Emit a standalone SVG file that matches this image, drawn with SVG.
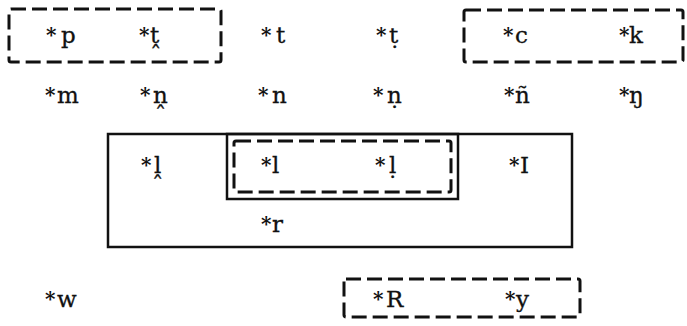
<svg xmlns="http://www.w3.org/2000/svg" width="687" height="326" viewBox="0 0 687 326">
  <style>
    .dash { fill: none; stroke: #111; stroke-width: 3; stroke-dasharray: 15 6; }
    .solid { fill: none; stroke: #111; stroke-width: 2.5; }
  </style>
  <rect width="687" height="326" fill="#fff"/>

  <!-- grouping boxes -->
  <g id="groupings">
    <rect class="dash" x="9" y="9" width="212" height="53" rx="2"/>
    <rect class="dash" x="464" y="10" width="219" height="52" rx="2"/>
    <rect class="solid" x="108" y="134" width="464" height="113"/>
    <rect class="solid" x="227" y="134" width="231" height="65"/>
    <rect class="dash" x="234" y="141" width="217" height="51" rx="2"/>
    <rect class="dash" x="344" y="279" width="236" height="38" rx="2"/>
  </g>

  <!-- row 1: stops -->
  <g id="p"><text x="46" y="42" font-family="DejaVu Serif" font-size="20" font-weight="bold" fill="#111">*</text><text x="61" y="43" font-family="DejaVu Serif" font-size="23" fill="#111" stroke="#111" stroke-width="0.3">p</text></g>
  <g id="t-lamino"><text x="139" y="42" font-family="DejaVu Serif" font-size="20" font-weight="bold" fill="#111">*</text><text x="150" y="43" font-family="DejaVu Serif" font-size="23" fill="#111" stroke="#111" stroke-width="0.3">t&#x032D;</text></g>
  <g id="t"><text x="261" y="42" font-family="DejaVu Serif" font-size="20" font-weight="bold" fill="#111">*</text><text x="276" y="43" font-family="DejaVu Serif" font-size="23" fill="#111" stroke="#111" stroke-width="0.3">t</text></g>
  <g id="t-retro"><text x="376" y="42" font-family="DejaVu Serif" font-size="20" font-weight="bold" fill="#111">*</text><text x="389" y="43" font-family="DejaVu Serif" font-size="23" fill="#111" stroke="#111" stroke-width="0.3">&#x1E6D;</text></g>
  <g id="c"><text x="503" y="42" font-family="DejaVu Serif" font-size="20" font-weight="bold" fill="#111">*</text><text x="515" y="43" font-family="DejaVu Serif" font-size="23" fill="#111" stroke="#111" stroke-width="0.3">c</text></g>
  <g id="k"><text x="619" y="42" font-family="DejaVu Serif" font-size="20" font-weight="bold" fill="#111">*</text><text x="629" y="43" font-family="DejaVu Serif" font-size="23" fill="#111" stroke="#111" stroke-width="0.3">k</text></g>

  <!-- row 2: nasals -->
  <g id="m"><text x="45" y="102" font-family="DejaVu Serif" font-size="20" font-weight="bold" fill="#111">*</text><text x="57" y="103" font-family="DejaVu Serif" font-size="23" fill="#111" stroke="#111" stroke-width="0.3">m</text></g>
  <g id="n-lamino"><text x="140" y="102" font-family="DejaVu Serif" font-size="20" font-weight="bold" fill="#111">*</text><text x="153" y="103" font-family="DejaVu Serif" font-size="23" fill="#111" stroke="#111" stroke-width="0.3">n&#x032D;</text></g>
  <g id="n"><text x="258" y="102" font-family="DejaVu Serif" font-size="20" font-weight="bold" fill="#111">*</text><text x="272" y="103" font-family="DejaVu Serif" font-size="23" fill="#111" stroke="#111" stroke-width="0.3">n</text></g>
  <g id="n-retro"><text x="373" y="102" font-family="DejaVu Serif" font-size="20" font-weight="bold" fill="#111">*</text><text x="387" y="103" font-family="DejaVu Serif" font-size="23" fill="#111" stroke="#111" stroke-width="0.3">&#x1E47;</text></g>
  <g id="n-palatal"><text x="504" y="102" font-family="DejaVu Serif" font-size="20" font-weight="bold" fill="#111">*</text><text x="515" y="103" font-family="DejaVu Serif" font-size="23" fill="#111" stroke="#111" stroke-width="0.3">ñ</text></g>
  <g id="ng"><text x="619" y="102" font-family="DejaVu Serif" font-size="20" font-weight="bold" fill="#111">*</text><text x="629" y="103" font-family="DejaVu Serif" font-size="23" fill="#111" stroke="#111" stroke-width="0.3">ŋ</text></g>

  <!-- row 3: laterals and rhotic -->
  <g id="l-lamino"><text x="141" y="172" font-family="DejaVu Serif" font-size="20" font-weight="bold" fill="#111">*</text><text x="154" y="173" font-family="DejaVu Serif" font-size="23" fill="#111" stroke="#111" stroke-width="0.3">l&#x032D;</text></g>
  <g id="l"><text x="261" y="172" font-family="DejaVu Serif" font-size="20" font-weight="bold" fill="#111">*</text><text x="272" y="173" font-family="DejaVu Serif" font-size="23" fill="#111" stroke="#111" stroke-width="0.3">l</text></g>
  <g id="l-retro"><text x="375" y="172" font-family="DejaVu Serif" font-size="20" font-weight="bold" fill="#111">*</text><text x="389" y="173" font-family="DejaVu Serif" font-size="23" fill="#111" stroke="#111" stroke-width="0.3">&#x1E37;</text></g>
  <g id="l-palatal"><text x="509" y="172" font-family="DejaVu Serif" font-size="20" font-weight="bold" fill="#111">*</text><text x="520" y="173" font-family="DejaVu Serif" font-size="23" fill="#111" stroke="#111" stroke-width="0.3">I</text></g>
  <g id="r"><text x="261" y="231" font-family="DejaVu Serif" font-size="20" font-weight="bold" fill="#111">*</text><text x="272" y="232" font-family="DejaVu Serif" font-size="23" fill="#111" stroke="#111" stroke-width="0.3">r</text></g>

  <!-- row 4: glides and trill -->
  <g id="w"><text x="45" y="306" font-family="DejaVu Serif" font-size="20" font-weight="bold" fill="#111">*</text><text x="57" y="307" font-family="DejaVu Serif" font-size="23" fill="#111" stroke="#111" stroke-width="0.3">w</text></g>
  <g id="R"><text x="373" y="306" font-family="DejaVu Serif" font-size="20" font-weight="bold" fill="#111">*</text><text x="386" y="307" font-family="DejaVu Serif" font-size="23" fill="#111" stroke="#111" stroke-width="0.3">R</text></g>
  <g id="y"><text x="505" y="306" font-family="DejaVu Serif" font-size="20" font-weight="bold" fill="#111">*</text><text x="516" y="307" font-family="DejaVu Serif" font-size="23" fill="#111" stroke="#111" stroke-width="0.3">y</text></g>
</svg>
